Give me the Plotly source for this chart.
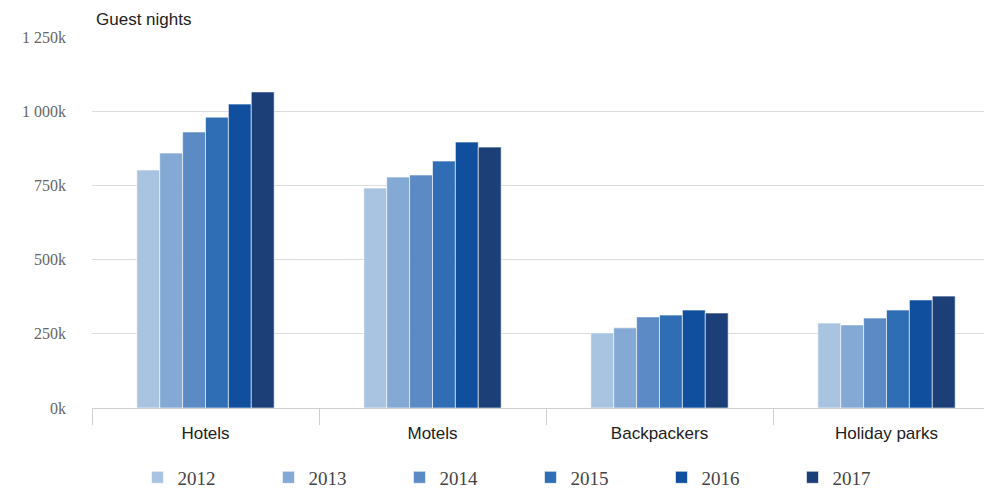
import plotly.graph_objects as go

categories = ["Hotels", "Motels", "Backpackers", "Holiday parks"]
years = ["2012", "2013", "2014", "2015", "2016", "2017"]
values = {
    "2012": [802000, 741000, 253000, 286000],
    "2013": [859000, 778000, 270000, 280000],
    "2014": [930000, 785000, 307000, 303000],
    "2015": [980000, 832000, 313000, 330000],
    "2016": [1024000, 896000, 330000, 364000],
    "2017": [1065000, 879000, 320000, 377000],
}
colors = ["#a9c4e0", "#84a9d4", "#5b8ac5", "#2f6db5", "#0f4f9e", "#1c3f77"]
y_tickvals = [0, 250000, 500000, 750000, 1000000, 1250000]
y_ticktext = ["0k", "250k", "500k", "750k", "1 000k", "1 250k"]

fig = go.Figure()
for yr, col in zip(years, colors):
    fig.add_trace(go.Bar(
        name=yr, x=categories, y=values[yr],
        marker=dict(color=col, line=dict(color="white", width=0.6)),
    ))

fig.update_layout(
    width=992, height=482,
    margin=dict(l=84, r=0, t=29, b=82, autoexpand=False),
    paper_bgcolor="white", plot_bgcolor="white",
    barmode="group", bargap=0.395, bargroupgap=0,
    showlegend=True,
    legend=dict(
        orientation="h", x=0.0501, y=-0.136, xanchor="left", yanchor="top",
        font=dict(family="Liberation Serif", size=19, color="#444"),
        entrywidth=86, entrywidthmode="pixels", itemwidth=30,
        traceorder="normal",
    ),
    annotations=[dict(
        text="Guest nights", xref="paper", yref="paper", x=0.002, y=1.0,
        xanchor="left", yanchor="bottom", yshift=6, showarrow=False,
        font=dict(family="Liberation Sans", size=17, color="#222"),
    )],
)
fig.update_yaxes(
    range=[0, 1250000], tickvals=y_tickvals, ticktext=y_ticktext,
    showgrid=True, gridcolor="#dcdcdc", gridwidth=1,
    zeroline=False, showline=False, automargin=False,
    tickfont=dict(family="Liberation Serif", size=16, color="#666"),
    ticks="", ticklabelstandoff=25,
)
fig.update_xaxes(
    showline=True, linecolor="#cfcfcf", linewidth=1, automargin=False,
    ticks="outside", tickson="boundaries", ticklen=16, tickcolor="#cfcfcf",
    tickfont=dict(family="Liberation Sans", size=17, color="#222"),
    ticklabelstandoff=10,
    showgrid=False,
)
fig.write_html("out.html")
